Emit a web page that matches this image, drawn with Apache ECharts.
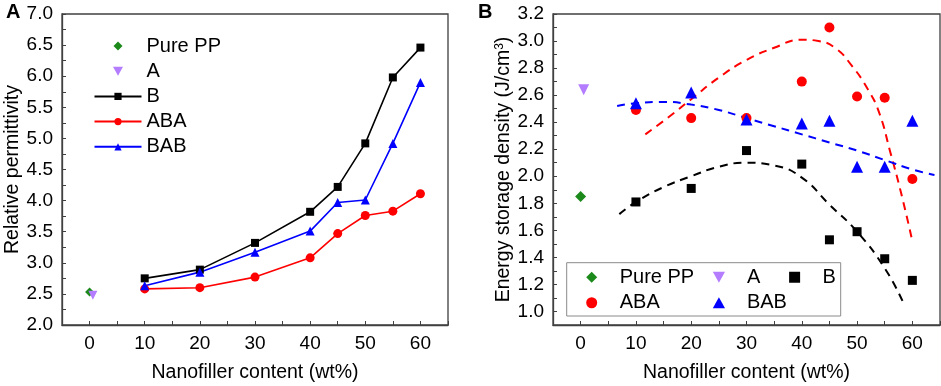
<!DOCTYPE html>
<html>
<head>
<meta charset="utf-8">
<script src="https://cdn.jsdelivr.net/npm/echarts@6/dist/echarts.min.js"></script>
<style>
  body { margin: 0; background: #fff; }
  #wrap { position: relative; width: 941px; height: 386px; }
  #chartA { position: absolute; left: 0; top: 0; width: 470px; height: 386px; }
  #chartB { position: absolute; left: 470px; top: 0; width: 471px; height: 386px; }
</style>
</head>
<body>
<div id="wrap">
  <div id="chartA"></div>
  <div id="chartB"></div>
</div>
<script>
// x positions (wt%)
const content = [10, 20, 30, 40, 45, 50, 55, 60];

// panel A: relative permittivity
const permPurePP = [[0, 2.53]];
const permA = [[0.6, 2.48]];
const permB = [2.75, 2.89, 3.32, 3.82, 4.22, 4.92, 5.98, 6.46];
const permABA = [2.58, 2.60, 2.77, 3.08, 3.47, 3.76, 3.83, 4.11];
const permBAB = [2.63, 2.85, 3.17, 3.51, 3.97, 4.01, 4.92, 5.90];

// panel B: energy storage density
const edPurePP = [[0, 1.85]];
const edA = [[0.55, 2.64]];
const edB = [1.81, 1.91, 2.19, 2.09, 1.53, 1.59, 1.39, 1.23];
const edABA = [2.49, 2.43, 2.43, 2.70, 3.10, 2.59, 2.58, 1.98];
const edBAB = [2.54, 2.62, 2.42, 2.39, 2.41, 2.07, 2.07, 2.41];

// dashed fit curves
const fitBx = [7, 10, 15, 20, 25, 30, 35, 40, 45, 50, 55, 58.3];
const fitBy = [1.72, 1.81, 1.92, 2.00, 2.07, 2.10, 2.08, 1.99, 1.79, 1.59, 1.32, 1.07];
const fitABAx = [11.7, 16, 20, 25, 30, 35, 40, 43, 46, 49, 52, 54, 56, 58, 60];
const fitABAy = [2.31, 2.44, 2.57, 2.73, 2.86, 2.95, 3.01, 3.00, 2.95, 2.82, 2.64, 2.47, 2.18, 1.87, 1.52];
const fitBABx = [6.6, 10, 15, 20, 25, 30, 35, 40, 45, 50, 55, 60, 64];
const fitBABy = [2.52, 2.54, 2.55, 2.53, 2.49, 2.43, 2.37, 2.31, 2.25, 2.19, 2.12, 2.05, 2.01];

const FONT = 'Liberation Sans, Arial, sans-serif';
const AX = '#404040';
const GREEN = '#1b8a1b';
const PURPLE = '#b47cff';

// legend icons as paths so they keep their aspect
const ICON = {
  diamond: 'path://M0,-1L1,0L0,1L-1,0Z',
  down: 'path://M-1,-0.9L1,-0.9L0,0.9Z',
  up: 'path://M0,-0.9L1,0.9L-1,0.9Z',
  rect: 'path://M-1,-1L1,-1L1,1L-1,1Z',
  circle: 'path://M1,0A1,1,0,1,1,-1,0A1,1,0,1,1,1,0Z'
};

const pair = (xs, ys) => xs.map((x, i) => [x, ys[i]]);

function xAxisOpt() {
  return {
    type: 'value', min: -5, max: 65, interval: 5,
    name: 'Nanofiller content (wt%)', nameLocation: 'middle', nameGap: 38, nameMoveOverlap: false,
    nameTextStyle: { fontSize: 19.5, color: '#000' },
    axisLine: { onZero: false, lineStyle: { color: AX, width: 1.3 } },
    axisTick: { inside: true, length: 4, lineStyle: { color: AX } },
    axisLabel: {
      margin: 9, fontSize: 19, color: '#000',
      formatter: v => {
        const r = Math.round(v);
        return (r % 10 === 0 && r >= 0 && r <= 60) ? String(r) : '';
      }
    },
    splitLine: { show: false }
  };
}

function yAxisOpt(min, max, step, name, gap, rich) {
  return {
    type: 'value', min: min, max: max, interval: step,
    name: name, nameLocation: 'middle', nameGap: gap, nameMoveOverlap: false,
    nameTextStyle: { fontSize: 19.5, color: '#000', rich: rich },
    axisLine: { show: true, onZero: false, lineStyle: { color: AX, width: 1.3 } },
    axisTick: { show: true, inside: true, length: 4, lineStyle: { color: AX } },
    axisLabel: {
      margin: 9, fontSize: 19, color: '#000',
      formatter: v => (Math.round(v / step) % 2 === 0 ? v.toFixed(1) : '')
    },
    splitLine: { show: false }
  };
}

const dot = (name, symbol, size, color, data, rotate) => ({
  name: name, type: 'scatter', symbol: symbol, symbolSize: size, symbolRotate: rotate || 0,
  itemStyle: { color: color, opacity: 1 }, data: data
});

// ---- panel A ----
const chartA = echarts.init(document.getElementById('chartA'));
chartA.setOption({
  animation: false,
  textStyle: { fontFamily: FONT },
  grid: {
    left: 62, top: 14, width: 386, height: 311, containLabel: false, outerBoundsMode: 'none',
    show: true, borderColor: AX, borderWidth: 1.3
  },
  graphic: [{ type: 'text', left: 6, top: 2, style: { text: 'A', font: 'bold 20px ' + FONT, fill: '#000' } }],
  legend: {
    orient: 'vertical', left: 93.5, top: 36, padding: 0, itemWidth: 47, itemHeight: 9, itemGap: 5.2,
    selectedMode: false, symbolKeepAspect: true, symbolRotate: 0,
    textStyle: { fontSize: 20, color: '#000', lineHeight: 20 },
    data: [
      { name: 'Pure PP', icon: ICON.diamond },
      { name: 'A', icon: ICON.down },
      'B', 'ABA', 'BAB'
    ]
  },
  xAxis: xAxisOpt(),
  yAxis: yAxisOpt(2, 7, 0.25, 'Relative permittivity', 39),
  series: [
    dot('Pure PP', 'diamond', 9, GREEN, permPurePP),
    dot('A', 'triangle', 9, PURPLE, permA, 180),
    { name: 'B', type: 'line', symbol: 'rect', symbolSize: 8, color: '#000', lineStyle: { width: 1.6 }, data: pair(content, permB) },
    { name: 'ABA', type: 'line', symbol: 'circle', symbolSize: 9, color: '#ff0000', lineStyle: { width: 1.6 }, data: pair(content, permABA) },
    { name: 'BAB', type: 'line', symbol: 'triangle', symbolSize: 9, color: '#0000ff', lineStyle: { width: 1.6 }, data: pair(content, permBAB) }
  ]
});

// ---- panel B ----
const chartB = echarts.init(document.getElementById('chartB'));
const fitLine = (name, color, pts) => ({
  name: name, type: 'line', smooth: true, showSymbol: false, silent: true, z: 1,
  lineStyle: { color: color, width: 2, type: [8, 6] }, data: pts
});
const wide = { width: 93.1 };
const narrow = { width: 42.2 };
chartB.setOption({
  animation: false,
  textStyle: { fontFamily: FONT },
  grid: {
    left: 83, top: 14, width: 387, height: 311, containLabel: false, outerBoundsMode: 'none',
    show: true, borderColor: AX, borderWidth: 1.3
  },
  graphic: [
    { type: 'text', left: 8, top: 2, style: { text: 'B', font: 'bold 20px ' + FONT, fill: '#000' } },
    { type: 'rect', shape: { x: 96.7, y: 262.7, width: 274, height: 53.3 }, style: { fill: 'none', stroke: '#8a8a8a', lineWidth: 1 }, z: 10 }
  ],
  legend: {
    orient: 'horizontal', left: 116.2, top: 264.5, width: 260, padding: 0,
    itemWidth: 46, itemHeight: 11, itemGap: 0,
    selectedMode: false, symbolKeepAspect: true, symbolRotate: 0,
    textStyle: { fontSize: 20, color: '#000', lineHeight: 25.5 },
    data: [
      { name: 'Pure PP', icon: ICON.diamond, textStyle: wide },
      { name: 'A', icon: ICON.down, textStyle: narrow },
      { name: 'B', icon: ICON.rect },
      { name: 'ABA', icon: ICON.circle, textStyle: wide },
      { name: 'BAB', icon: ICON.up }
    ]
  },
  xAxis: xAxisOpt(),
  yAxis: yAxisOpt(0.9, 3.2, 0.1, 'Energy storage density (J/cm{sup|3})', 39,
    { sup: { fontSize: 12, verticalAlign: 'top', padding: [0, 0, 8, 0] } }),
  series: [
    fitLine('fitB', '#000', pair(fitBx, fitBy)),
    fitLine('fitABA', '#ff0000', pair(fitABAx, fitABAy)),
    fitLine('fitBAB', '#0000ff', pair(fitBABx, fitBABy)),
    dot('Pure PP', 'diamond', 11, GREEN, edPurePP),
    dot('A', 'triangle', 11, PURPLE, edA, 180),
    dot('B', 'rect', 9, '#000', pair(content, edB)),
    dot('ABA', 'circle', 10, '#ff0000', pair(content, edABA)),
    dot('BAB', 'triangle', 12, '#0000ff', pair(content, edBAB))
  ]
});
</script>
</body>
</html>
